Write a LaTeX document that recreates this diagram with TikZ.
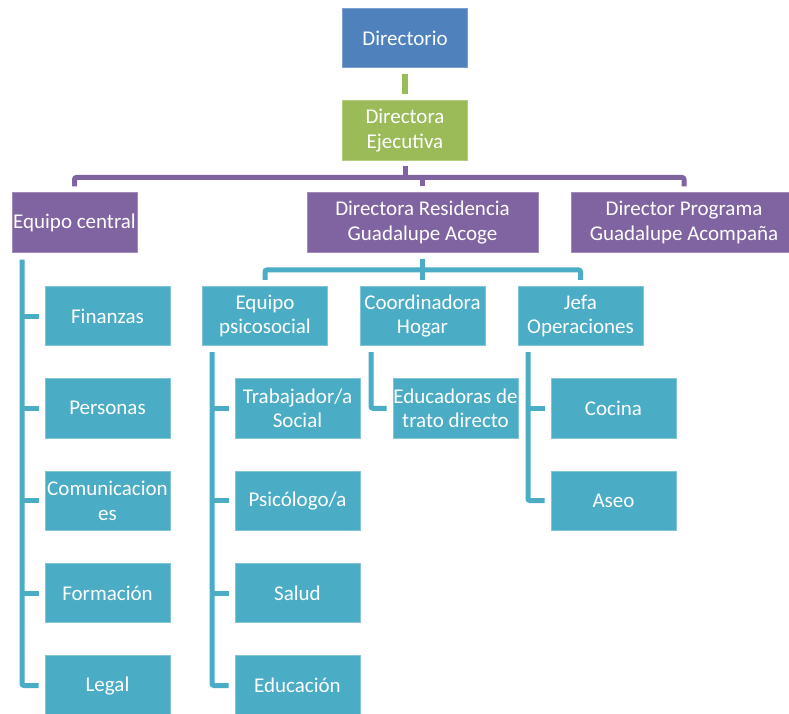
\documentclass[tikz,border=0pt]{standalone}
\usepackage{fontspec}
\setmainfont{Carlito}
\usetikzlibrary{calc}
\definecolor{cblue}{HTML}{4F81BD}
\definecolor{cgreen}{HTML}{9BBB59}
\definecolor{cpurple}{HTML}{8064A2}
\definecolor{cteal}{HTML}{4BACC6}
\tikzset{
  box/.style={rectangle, inner sep=0pt, minimum width=125pt, minimum height=59.5pt, text=white, align=center, font=\fontsize{21}{24.5}\selectfont},
  bluebox/.style={box, fill=cblue, draw=cblue!75!white, line width=0.6pt},
  greenbox/.style={box, fill=cgreen, draw=cgreen!75!white, line width=0.6pt},
  purplebox/.style={box, fill=cpurple, draw=cpurple!75!white, line width=0.6pt},
  tealbox/.style={box, fill=cteal, draw=cteal!70!white, line width=0.6pt},
  gline/.style={draw=cgreen, line width=5.5pt},
  pline/.style={draw=cpurple, line width=5pt, rounded corners=2pt},
  tline/.style={draw=cteal, line width=5pt, rounded corners=2pt},
}
\begin{document}
\begin{tikzpicture}[x=1pt, y=-1pt]
\useasboundingbox[fill=white] (0,0) rectangle (789,713);
% level 0-1
\node[bluebox] (dir) at (405,38) {Directorio};
\node[greenbox] (de) at (405,130.5) {Directora\\Ejecutiva};
% level 2
\node[purplebox] (ec) at (74.5,222.5) {Equipo central};
\node[purplebox, minimum width=231pt] (dr) at (422.5,222.5) {Directora Residencia\\Guadalupe Acoge};
\node[purplebox, minimum width=226pt] (dp) at (684,222.5) {Director Programa\\Guadalupe Acompaña};
% level 3 under residencia
\node[tealbox] (ep) at (265,316) {Equipo\\psicosocial};
\node[tealbox] (ch) at (422.5,316) {Coordinadora\\Hogar};
\node[tealbox] (jo) at (580.5,316) {Jefa\\Operaciones};
% equipo central column
\node[tealbox] (fi) at (107.5,316) {Finanzas};
\node[tealbox] (pe) at (107.5,408.3) {Personas};
\node[tealbox] (co) at (107.5,500.6) {Comunicacion\\es};
\node[tealbox] (fo) at (107.5,593) {Formación};
\node[tealbox] (le) at (107.5,685.5) {Legal};
% psicosocial column
\node[tealbox] (ts) at (297.5,408.3) {Trabajador/a\\Social};
\node[tealbox] (psi) at (297.5,500.6) {Psicólogo/a};
\node[tealbox] (sa) at (297.5,593) {Salud};
\node[tealbox] (edc) at (297.5,685.5) {Educación};
% hogar
\node[tealbox] (edu) at (455.5,408.3) {Educadoras de\\trato directo};
% operaciones
\node[tealbox] (coc) at (613.5,408.3) {Cocina};
\node[tealbox] (ase) at (613.5,500.6) {Aseo};

% green connector
\draw[gline] ($(dir.south)+(0,5.5)$) -- ($(de.north)+(0,-6)$);
% purple connectors
\draw[pline] ($(ec.north)+(0,-6)$) |- ($(dp.north)+(0,-15)$) -- ($(dp.north)+(0,-6)$);
\draw[pline] ($(de.south)+(0,5)$) -- ($(de.south)+(0,18)$);
\draw[pline] ($(dr.north)+(0,-6)$) -- ($(dr.north)+(0,-15)$);
% teal under residencia
\draw[tline] ($(ep.north)+(0,-6)$) |- ($(jo.north)+(0,-16)$) -- ($(jo.north)+(0,-6)$);
\draw[tline] ($(dr.south)+(0,6)$) -- ($(ch.north)+(0,-6)$);
% equipo central column
\coordinate (ecl) at ($(ec.south)+(-52.5,7)$);
\draw[tline] (ecl) |- ($(le.west)+(-6,0)$);
\foreach \n in {fi,pe,co,fo}
  \draw[tline] (ecl |- \n.west) -- ($(\n.west)+(-6,0)$);
% psicosocial column
\coordinate (epl) at ($(ep.south)+(-53,6)$);
\draw[tline] (epl) |- ($(edc.west)+(-6,0)$);
\foreach \n in {ts,psi,sa}
  \draw[tline] (epl |- \n.west) -- ($(\n.west)+(-6,0)$);
% hogar
\coordinate (chl) at ($(ch.south)+(-51.5,6)$);
\draw[tline] (chl) |- ($(edu.west)+(-6,0)$);
% operaciones
\coordinate (jol) at ($(jo.south)+(-52.5,6)$);
\draw[tline] (jol) |- ($(ase.west)+(-6,0)$);
\draw[tline] (jol |- coc.west) -- ($(coc.west)+(-6,0)$);
\end{tikzpicture}
\end{document}
